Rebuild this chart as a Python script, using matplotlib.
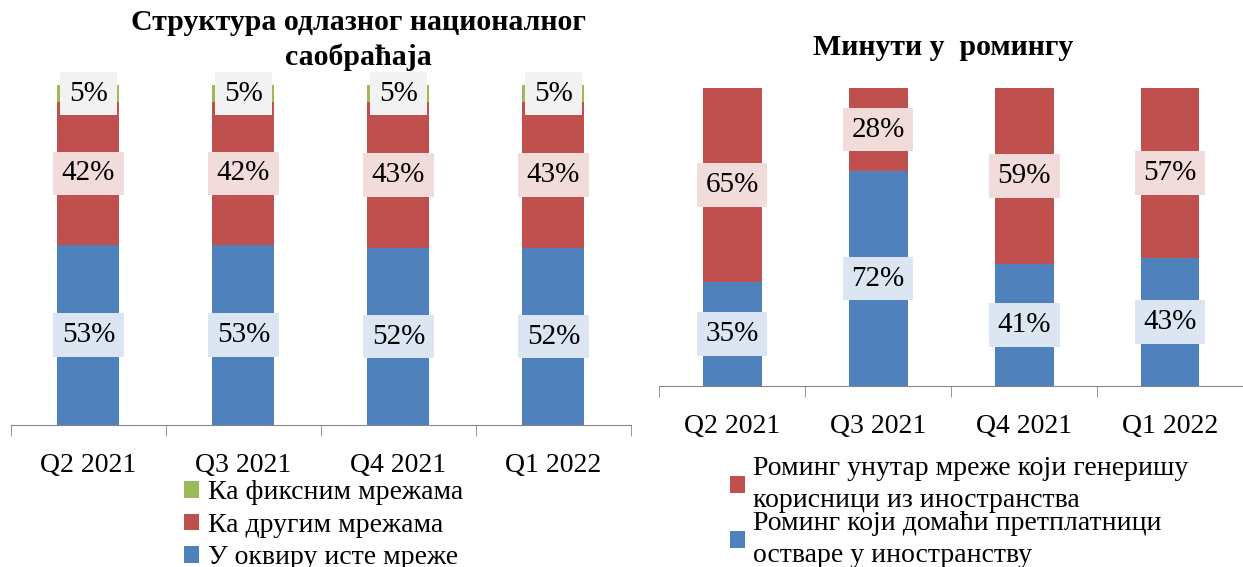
import matplotlib
matplotlib.use('Agg')
import matplotlib.pyplot as plt
import numpy as np

plt.rcParams['font.family'] = ['Liberation Serif', 'DejaVu Serif']

# podaci - levi grafikon
kvartali = ['Q2 2021', 'Q3 2021', 'Q4 2021', 'Q1 2022']
iste_mreze = [53, 53, 52, 52]
druge_mreze = [42, 42, 43, 43]
fiksne_mreze = [5, 5, 5, 5]

# podaci - desni grafikon
roming_domaci = [35, 72, 41, 43]
roming_strani = [65, 28, 59, 57]

plava = '#4f81bd'
crvena = '#c0504d'
zelena = '#9bbb59'
siva = '#868686'
fs = 20

fig = plt.figure(figsize=(12.43, 5.67), dpi=100)
ax1 = fig.add_axes([0.0088, 0.2504, 0.4988, 0.5996])
ax2 = fig.add_axes([0.5302, 0.3192, 0.4698, 0.5256])


def uredi_osu(ax):
    ax.set_xlim(-0.5, 3.5)
    ax.set_ylim(0, 100)
    for s in ['top', 'right', 'left']:
        ax.spines[s].set_visible(False)
    ax.spines['bottom'].set_color(siva)
    ax.set_yticks([])
    ax.set_xticks(range(4))
    ax.set_xticklabels(kvartali, fontsize=fs)
    ax.tick_params(axis='x', which='major', length=0, pad=20)
    ax.set_xticks(np.arange(-0.5, 4, 1), minor=True)
    ax.tick_params(axis='x', which='minor', length=8, color=siva, direction='out')


def natpis(ax, x, y, vr, boja):
    ax.text(x, y, '%d%%' % vr, ha='center', va='center', fontsize=fs + 1,
            bbox=dict(boxstyle='square,pad=0.3', facecolor=boja, edgecolor='none'))


x = np.arange(4)
w1 = 0.4
b1 = ax1.bar(x, iste_mreze, w1, color=plava)
b2 = ax1.bar(x, druge_mreze, w1, bottom=iste_mreze, color=crvena)
dno = [a + b for a, b in zip(iste_mreze, druge_mreze)]
b3 = ax1.bar(x, fiksne_mreze, w1, bottom=dno, color=zelena)
uredi_osu(ax1)
for i in range(4):
    natpis(ax1, x[i], iste_mreze[i] / 2, iste_mreze[i], '#dce6f2')
    natpis(ax1, x[i], iste_mreze[i] + druge_mreze[i] / 2, druge_mreze[i], '#f2dcdb')
    natpis(ax1, x[i], dno[i] + fiksne_mreze[i] / 2, fiksne_mreze[i], '#f2f2f2')

w2 = 0.404
c1 = ax2.bar(x, roming_domaci, w2, color=plava)
c2 = ax2.bar(x, roming_strani, w2, bottom=roming_domaci, color=crvena)
uredi_osu(ax2)
for i in range(4):
    natpis(ax2, x[i], roming_domaci[i] / 2, roming_domaci[i], '#dce6f2')
    natpis(ax2, x[i], roming_domaci[i] + roming_strani[i] / 2, roming_strani[i], '#f2dcdb')

fig.text(0.288, 0.930, 'Структура одлазног националног\nсаобраћаја', ha='center', va='center',
         fontsize=21.5, fontweight='bold', linespacing=1.35)
fig.text(0.759, 0.917, 'Минути у  ромингу', ha='center', va='center',
         fontsize=21.5, fontweight='bold')

leg1 = fig.legend([b3, b2, b1], ['Ка фиксним мрежама', 'Ка другим мрежама', 'У оквиру исте мреже'],
                  loc='upper left', bbox_to_anchor=(0.148, 0.153), frameon=False, fontsize=fs,
                  handlelength=0.55, handleheight=0.55, handletextpad=0.3, labelspacing=0.27,
                  borderaxespad=0, borderpad=0)
leg2 = fig.legend([c2, c1], ['Роминг унутар мреже који генеришу\nкорисници из иностранства',
                             'Роминг који домаћи претплатници\nостваре у иностранству'],
                  loc='upper left', bbox_to_anchor=(0.587, 0.196), frameon=False, fontsize=fs,
                  handlelength=0.55, handleheight=0.55, handletextpad=0.3, labelspacing=-0.1,
                  borderaxespad=0, borderpad=0)
for t in leg2.get_texts():
    t.set_linespacing(1.4)

fig.savefig('out.png', dpi=100)
